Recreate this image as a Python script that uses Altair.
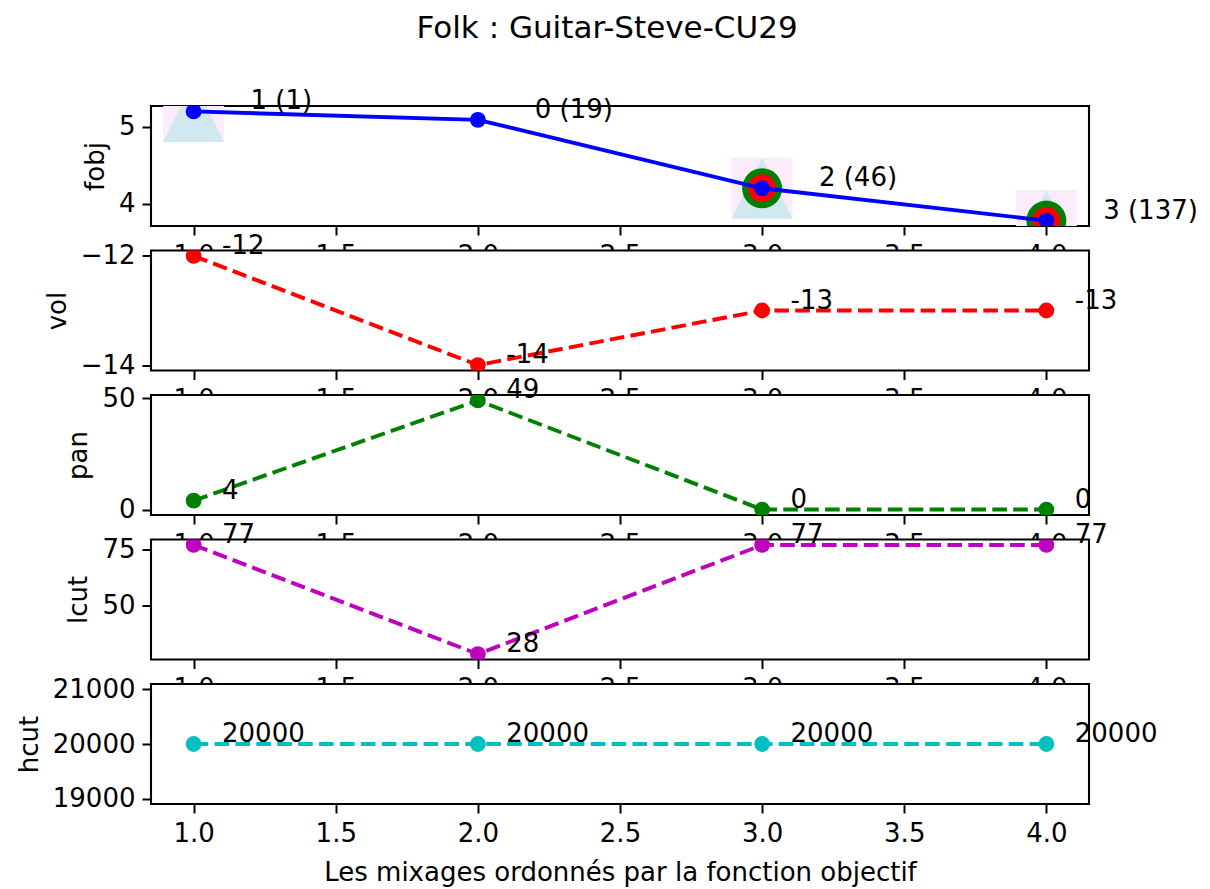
import altair as alt
import pandas as pd

FONT = "DejaVu Sans"

# ---- data ----
x_rank = [1, 2, 3, 4]
fobj = [5.2, 5.09, 4.2, 3.78]
fobj_labels = ["1 (1)", "0 (19)", "2 (46)", "3 (137)"]
vol = [-12, -14, -13, -13]
pan = [4, 49, 0, 0]
lcut = [77, 28, 77, 77]
hcut = [20000, 20000, 20000, 20000]
has_shape = [True, False, True, True]   # triangle + square behind point
has_ring = [False, False, True, True]   # green / red rings behind point
x_ticks = [1.0, 1.5, 2.0, 2.5, 3.0, 3.5, 4.0]

df = pd.DataFrame({
    "x": x_rank,
    "fobj": fobj,
    "fobj_label": fobj_labels,
    "vol": vol,
    "pan": pan,
    "lcut": lcut,
    "hcut": hcut,
    "shape": has_shape,
    "ring": has_ring,
})
for c in ["vol", "pan", "lcut", "hcut"]:
    df[c + "_label"] = [str(v) for v in df[c]]

W, H = 938, 120
xscale = alt.Scale(domain=[0.85, 4.15], nice=False, zero=False)
VIEW = alt.ViewBackground(fill="white", stroke="black", strokeWidth=2.1)


def xaxis(title=None):
    return alt.Axis(values=x_ticks, format=".1f", title=title, grid=False, domain=False,
                    tickSize=9, tickWidth=2, tickColor="black",
                    labelFontSize=26, labelPadding=7, labelColor="black", labelFont=FONT,
                    labelFlush=False, labelOverlap=False,
                    titleFont=FONT, titleFontSize=26, titleFontWeight="normal",
                    titleColor="black", titlePadding=13)


def yaxis(title, ticks):
    return alt.Axis(values=ticks, format="d", title=title, grid=False, domain=False,
                    tickSize=9, tickWidth=2, tickColor="black",
                    labelFontSize=26, labelPadding=7, labelColor="black", labelFont=FONT,
                    labelFlush=False, labelOverlap=False,
                    titleFont=FONT, titleFontSize=26, titleFontWeight="normal",
                    titleColor="black", titlePadding=10)


def panel(field, color, ydomain, yticks, label_field, dx, dashed=True, xtitle=None, extra=None):
    base = alt.Chart(df).encode(
        x=alt.X("x:Q", scale=xscale, axis=xaxis(xtitle)),
        y=alt.Y(f"{field}:Q", scale=alt.Scale(domain=ydomain, nice=False, zero=False),
                axis=yaxis(field, yticks)),
    )
    if dashed:
        line = base.mark_line(color=color, strokeWidth=3.9, strokeDash=[14.6, 6.3], clip=True)
    else:
        line = base.mark_line(color=color, strokeWidth=3.9, clip=True)
    pts = base.mark_circle(color=color, size=250, opacity=1, clip=True)
    txt = base.mark_text(align="left", baseline="alphabetic", dx=dx, dy=-2,
                         fontSize=26, font=FONT, color="black").encode(text=f"{label_field}:N")
    layers = (extra or []) + [line, pts, txt]
    return alt.layer(*layers).properties(width=W, height=H, view=VIEW)


# fobj panel decorations
fb = alt.Chart(df).encode(
    x=alt.X("x:Q", scale=xscale, axis=xaxis()),
    y=alt.Y("fobj:Q", scale=alt.Scale(domain=[3.71, 5.27], nice=False, zero=False),
            axis=yaxis("fobj", [4, 5])),
)
square = fb.transform_filter("datum.shape").mark_point(
    shape="square", filled=True, size=3721, color="#fbebfb", opacity=1, clip=True)
tri = fb.transform_filter("datum.shape").mark_point(
    shape="M0,-1L1,1L-1,1Z", filled=True, size=3721, color="#d2e8f0", opacity=1, clip=True)
green = fb.transform_filter("datum.ring").mark_circle(color="#008000", size=1600, opacity=1, clip=True)
red = fb.transform_filter("datum.ring").mark_circle(color="#ff0000", size=780, opacity=1, clip=True)

p_fobj = panel("fobj", "#0000ff", [3.71, 5.27], [4, 5], "fobj_label", 56.8, dashed=False,
               extra=[square, tri, green, red])
p_vol = panel("vol", "#ff0000", [-14.1, -11.9], [-14, -12], "vol_label", 28.4)
p_pan = panel("pan", "#008000", [-2.45, 51.45], [0, 50], "pan_label", 28.4)
p_lcut = panel("lcut", "#bf00bf", [25.55, 79.45], [50, 75], "lcut_label", 28.4)
p_hcut = panel("hcut", "#00bfbf", [18900, 21100], [19000, 20000, 21000], "hcut_label", 28.4,
               xtitle="Les mixages ordonnés par la fonction objectif")

chart = alt.vconcat(p_fobj, p_vol, p_pan, p_lcut, p_hcut, spacing=24.5, bounds="flush").properties(
    title=alt.Title("Folk : Guitar-Steve-CU29", font=FONT, fontSize=31, fontWeight="normal",
                    color="black", anchor="middle", frame="bounds", offset=42),
    padding={"left": 15, "top": 13, "right": 5, "bottom": 5},
    background="white",
).configure_view(fill="white", stroke="black", strokeWidth=2.1)

chart.save("out.html", embed_options={"renderer": "svg", "actions": False})
